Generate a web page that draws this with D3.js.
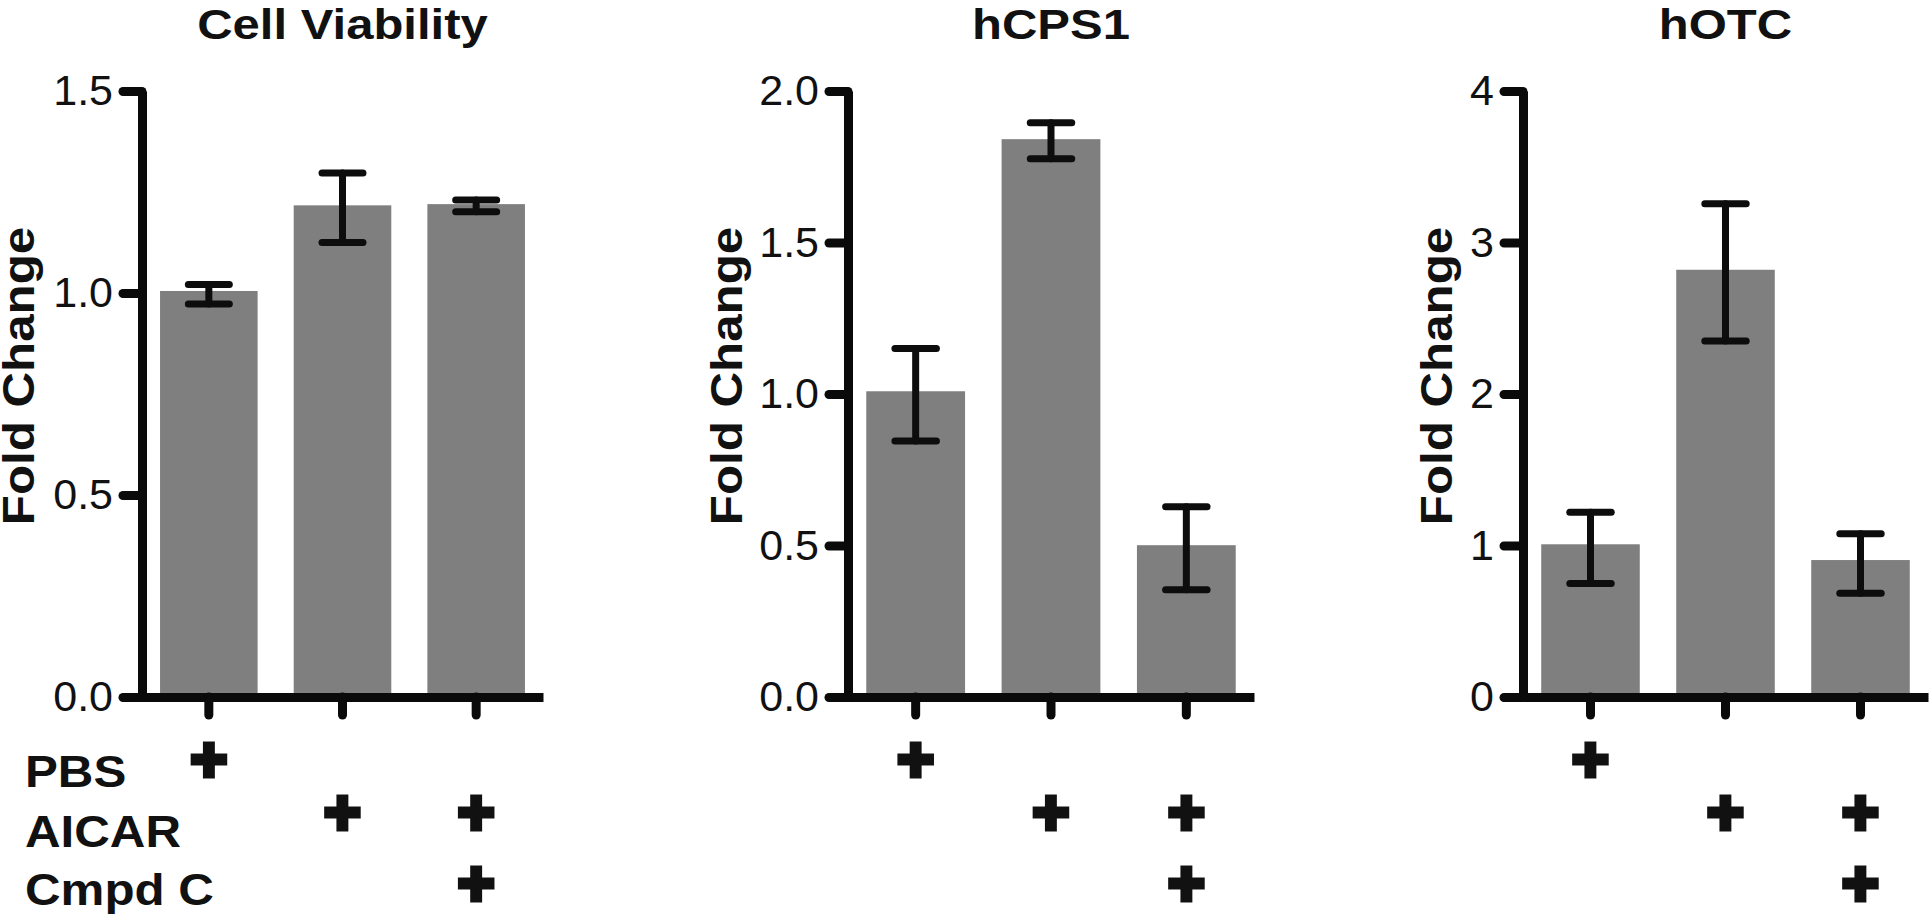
<!DOCTYPE html>
<html>
  <head>
    <meta charset="utf-8" />
    <title>Fold change panels</title>
    <script src="https://cdn.jsdelivr.net/npm/d3@7/dist/d3.min.js"></script>
    <style type="text/css">
      html, body {
        margin: 0;
        padding: 0;
        background: #fff;
      }
      svg text {
        font-family: "Liberation Sans", Arial, Helvetica, sans-serif;
        fill: #111;
      }
      .bold {
        font-weight: bold;
      }
      .axis path, .axis line {
        stroke: #0a0a0a;
        stroke-width: 9;
        stroke-linecap: round;
        fill: none;
      }
      .axis .domain {
        stroke-linecap: butt;
      }
      .axis text {
        font-size: 43px;
      }
      .bar {
        fill: #7f7f7f;
      }
      .err {
        stroke: #0d0d0d;
        stroke-width: 7;
        stroke-linecap: round;
      }
    </style>
  </head>
  <body>
    <svg id="chart" width="1930" height="918" viewBox="0 0 1930 918"></svg>

    <script type="text/javascript">

    // data
    var titles = ['Cell Viability', 'hCPS1', 'hOTC'];
    var groups = ['PBS', 'AICAR', 'AICAR+CmpdC'];

    var viabilityMean = [1.005, 1.217, 1.220],
        viabilityHigh = [1.021, 1.297, 1.230],
        viabilityLow  = [0.973, 1.125, 1.201];

    var cps1Mean = [1.009, 1.841, 0.501],
        cps1High = [1.150, 1.895, 0.628],
        cps1Low  = [0.845, 1.776, 0.354];

    var otcMean = [1.008, 2.820, 0.904],
        otcHigh = [1.220, 3.256, 1.077],
        otcLow  = [0.750, 2.350, 0.684];

    var viabilityTicks = [0, 0.5, 1.0, 1.5],
        cps1Ticks = [0, 0.5, 1.0, 1.5, 2.0],
        otcTicks = [0, 1, 2, 3, 4];

    var treatments = ['PBS', 'AICAR', 'Cmpd C'];
    var treatmentGiven = [
      [1, 0, 0],
      [0, 1, 1],
      [0, 0, 1]
    ];

    var yLabel = 'Fold Change';

    // layout
    var svg = d3.select('#chart'),
        plotTop = 91,
        plotBottom = 697,
        stretch = 1.12;

    var panels = [
      { left: 142,  right: 543,  mean: viabilityMean, high: viabilityHigh, low: viabilityLow, ticks: viabilityTicks, fmt: '.1f', labelX: 34 },
      { left: 848,  right: 1254, mean: cps1Mean,      high: cps1High,      low: cps1Low,      ticks: cps1Ticks,      fmt: '.1f', labelX: 742 },
      { left: 1523, right: 1928, mean: otcMean,       high: otcHigh,       low: otcLow,       ticks: otcTicks,       fmt: 'd',   labelX: 1452 }
    ];

    var plusRowY = [761, 814, 885],
        rowBaseline = [787, 847, 905];

    // widen bold text a little, like the original figure
    function widen(sel, factor) {
      sel.each(function() {
        var len = this.getComputedTextLength();
        d3.select(this)
          .attr('textLength', len * factor)
          .attr('lengthAdjust', 'spacingAndGlyphs');
      });
    }

    panels.forEach(function(p, pi) {
      var x = d3.scaleBand()
                .domain(groups)
                .range([p.left, p.right])
                .paddingInner(0.27)
                .paddingOuter(0.135);

      var y = d3.scaleLinear()
                .domain([0, d3.max(p.ticks)])
                .range([plotBottom, plotTop]);

      var g = svg.append('g');

      // bars
      g.selectAll('.bar')
       .data(groups)
       .enter()
       .append('rect')
       .attr('class', 'bar')
       .attr('x', function(d) { return x(d); })
       .attr('width', x.bandwidth())
       .attr('y', function(d, i) { return y(p.mean[i]); })
       .attr('height', function(d, i) { return y(0) - y(p.mean[i]); });

      // axes
      g.append('g')
       .attr('class', 'axis')
       .attr('transform', 'translate(0,' + plotBottom + ')')
       .call(d3.axisBottom(x).tickSize(18).tickSizeOuter(0).tickFormat(''))
       .call(function(a) { a.selectAll('text').remove(); });

      g.append('g')
       .attr('class', 'axis')
       .attr('transform', 'translate(' + p.left + ',0)')
       .call(d3.axisLeft(y)
               .tickValues(p.ticks)
               .tickSize(19)
               .tickSizeOuter(0)
               .tickPadding(10)
               .tickFormat(d3.format(p.fmt)));

      // error bars
      var capHalf = x.bandwidth() * 0.21;
      var eb = g.selectAll('.errbar')
                .data(groups)
                .enter()
                .append('g')
                .attr('class', 'errbar');

      eb.append('line')
        .attr('class', 'err')
        .attr('x1', function(d) { return x(d) + x.bandwidth() / 2; })
        .attr('x2', function(d) { return x(d) + x.bandwidth() / 2; })
        .attr('y1', function(d, i) { return y(p.low[i]); })
        .attr('y2', function(d, i) { return y(p.high[i]); });

      ['high', 'low'].forEach(function(k) {
        eb.append('line')
          .attr('class', 'err')
          .attr('x1', function(d) { return x(d) + x.bandwidth() / 2 - capHalf; })
          .attr('x2', function(d) { return x(d) + x.bandwidth() / 2 + capHalf; })
          .attr('y1', function(d, i) { return y(p[k][i]); })
          .attr('y2', function(d, i) { return y(p[k][i]); });
      });

      // title
      svg.append('text')
         .attr('class', 'bold')
         .attr('text-anchor', 'middle')
         .attr('font-size', 43)
         .attr('x', (p.left + p.right) / 2)
         .attr('y', 39)
         .text(titles[pi])
         .call(widen, stretch + 0.02);

      // y label
      svg.append('text')
         .attr('class', 'bold')
         .attr('text-anchor', 'middle')
         .attr('font-size', 44)
         .attr('transform', 'translate(' + p.labelX + ',376) rotate(-90)')
         .text(yLabel)
         .call(widen, stretch);

      // treatment table
      treatmentGiven.forEach(function(row, ri) {
        row.forEach(function(on, ci) {
          if (!on) return;
          svg.append('text')
             .attr('class', 'bold')
             .attr('text-anchor', 'middle')
             .attr('font-size', 63)
             .attr('x', x(groups[ci]) + x.bandwidth() / 2)
             .attr('y', plusRowY[ri])
             .attr('dy', '0.31em')
             .style('stroke', '#111')
             .style('stroke-width', 5)
             .text('+');
        });
      });
    });

    // treatment names on the left
    treatments.forEach(function(t, i) {
      svg.append('text')
         .attr('class', 'bold')
         .attr('font-size', 44)
         .attr('x', 25)
         .attr('y', rowBaseline[i])
         .text(t)
         .call(widen, stretch);
    });

    </script>
  </body>
</html>
